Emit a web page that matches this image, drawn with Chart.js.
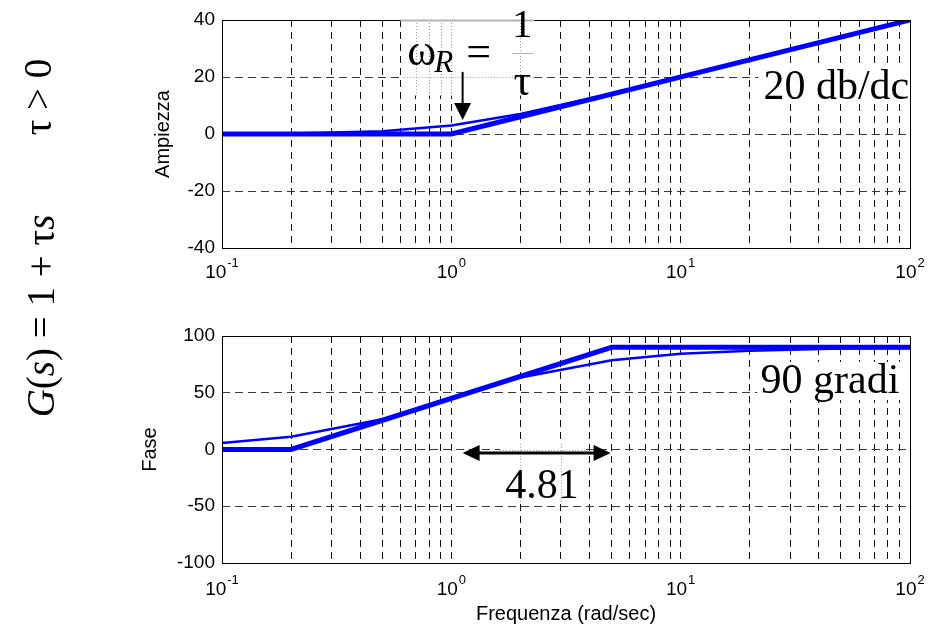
<!DOCTYPE html>
<html>
<head>
<meta charset="utf-8">
<script src="https://cdn.jsdelivr.net/npm/chart.js@4.4.0/dist/chart.umd.min.js"></script>
<style>
  html, body { margin: 0; padding: 0; background: #fff; }
  #wrap { position: relative; width: 946px; height: 631px; overflow: hidden; }
  canvas { position: absolute; left: 0; }
  #magCanvas { top: 0; }
  #phaseCanvas { top: 300px; }
  .eq {
    position: absolute;
    font-family: 'Liberation Serif', 'DejaVu Serif', serif;
    font-size: 39px;
    line-height: 1;
    white-space: nowrap;
    color: #000;
    transform: translate(-50%, -50%) rotate(-90deg);
  }
  .eq i { font-style: italic; }
</style>
</head>
<body>
<div id="wrap">
  <canvas id="magCanvas" width="946" height="300"></canvas>
  <canvas id="phaseCanvas" width="946" height="331"></canvas>
  <div class="eq" style="left:40px; top:316px;"><i>G</i>(<i>s</i>) = 1 + τ<i>s</i></div>
  <div class="eq" style="left:37px; top:97px;">τ &gt; 0</div>
</div>

<script>
// frequencies where the exact curves were sampled (rad/sec)
const freq = [0.1, 0.2, 0.5, 1, 2, 5, 10, 20, 50, 100];
// exact magnitude (dB) and phase (deg)
const magExact = [0.04, 0.17, 0.97, 3.0, 7.0, 14.2, 20.0, 26.0, 34.0, 40.0];
const phaseExact = [5.7, 11.3, 26.6, 45, 63.4, 78.7, 84.3, 87.1, 88.9, 89.4];
// asymptotic approximations
const magAsymFreq = [0.1, 1, 100];
const magAsym = [0, 0, 40];
const phaseAsymFreq = [0.1, 0.2, 5, 100];
const phaseAsym = [0, 0, 90, 90];
// ticks
const decadeTicks = [0.1, 1, 10, 100];
const decadeExponents = ['-1', '0', '1', '2'];
const magTicks = [-40, -20, 0, 20, 40];
const phaseTicks = [-100, -50, 0, 50, 100];

// grid lines at 1..9 x each decade
const gridFreqs = [];
for (let d = -1; d < 2; d++) {
  for (let m = 1; m < 10; m++) gridFreqs.push(m * Math.pow(10, d));
}
gridFreqs.push(100);

const SANS = "'Liberation Sans', Arial, sans-serif";
const SERIF = "'Liberation Serif', 'Times New Roman', serif";
const BLUE = '#0000ff';

function toPoints(xs, ys) {
  return xs.map((x, i) => ({ x: x, y: ys[i] }));
}

// white patch over the grid
function whiteBox(chart, xr, yr) {
  const { ctx, scales: { x, y } } = chart;
  const x0 = x.getPixelForValue(xr[0]), x1 = x.getPixelForValue(xr[1]);
  const y0 = y.getPixelForValue(yr[1]), y1 = y.getPixelForValue(yr[0]);
  ctx.save();
  ctx.fillStyle = '#fff';
  ctx.fillRect(x0, y0, x1 - x0, y1 - y0);
  ctx.restore();
}

// pasted formula region: grid shows as light dotted lines
function pasteBox(chart, xr, yr, vLines, hLines) {
  const { ctx, scales: { x, y } } = chart;
  const x0 = x.getPixelForValue(xr[0]), x1 = x.getPixelForValue(xr[1]);
  const y0 = y.getPixelForValue(yr[1]), y1 = y.getPixelForValue(yr[0]);
  whiteBox(chart, xr, yr);
  ctx.save();
  ctx.strokeStyle = '#a0a0a0';
  ctx.lineWidth = 1;
  ctx.setLineDash([1, 2]);
  vLines.forEach(v => {
    const px = Math.round(x.getPixelForValue(v)) + 0.5;
    ctx.beginPath(); ctx.moveTo(px, y0); ctx.lineTo(px, y1); ctx.stroke();
  });
  hLines.forEach(v => {
    const py = Math.round(y.getPixelForValue(v)) + 0.5;
    ctx.beginPath(); ctx.moveTo(x0, py); ctx.lineTo(x1, py); ctx.stroke();
  });
  ctx.restore();
}

function frame(chart) {
  const { ctx, chartArea: a } = chart;
  ctx.save();
  ctx.strokeStyle = '#000';
  ctx.lineWidth = 1;
  ctx.strokeRect(Math.round(a.left) + 0.5, Math.round(a.top) + 0.5,
    Math.round(a.right - a.left), Math.round(a.bottom - a.top));
  ctx.restore();
}

function decadeLabels(chart, offset) {
  const { ctx, chartArea, scales: { x } } = chart;
  ctx.save();
  ctx.fillStyle = '#000';
  ctx.textAlign = 'left';
  ctx.textBaseline = 'alphabetic';
  decadeTicks.forEach((v, i) => {
    ctx.font = '19px ' + SANS;
    const wBase = ctx.measureText('10').width;
    ctx.font = '13px ' + SANS;
    const wExp = ctx.measureText(decadeExponents[i]).width;
    const left = x.getPixelForValue(v) - (wBase + wExp + 1) / 2;
    const base = chartArea.bottom + offset;
    ctx.font = '19px ' + SANS;
    ctx.fillText('10', left, base);
    ctx.font = '13px ' + SANS;
    ctx.fillText(decadeExponents[i], left + wBase + 1, base - 11);
  });
  ctx.restore();
}

function yTitle(chart, text, gap) {
  const { ctx, chartArea: a } = chart;
  ctx.save();
  ctx.translate(a.left - gap, (a.top + a.bottom) / 2);
  ctx.rotate(-Math.PI / 2);
  ctx.font = '20px ' + SANS;
  ctx.fillStyle = '#000';
  ctx.textAlign = 'center';
  ctx.textBaseline = 'middle';
  ctx.fillText(text, 0, 0);
  ctx.restore();
}

function arrowHead(ctx, tx, ty, dx, dy, len, half) {
  ctx.beginPath();
  ctx.moveTo(tx, ty);
  ctx.lineTo(tx - dx * len - dy * half, ty - dy * len + dx * half);
  ctx.lineTo(tx - dx * len + dy * half, ty - dy * len - dx * half);
  ctx.closePath();
  ctx.fill();
}

function serifText(chart, text, xv, yv, size, italic) {
  const { ctx, scales: { x, y } } = chart;
  ctx.save();
  ctx.font = (italic ? 'italic ' : '') + size + 'px ' + SERIF;
  ctx.fillStyle = '#000';
  ctx.textAlign = 'left';
  ctx.textBaseline = 'alphabetic';
  ctx.fillText(text, x.getPixelForValue(xv), y.getPixelForValue(yv));
  ctx.restore();
}

const magAnnot = {
  id: 'magAnnot',
  beforeDatasetsDraw(chart) {
    whiteBox(chart, [21.8, 100], [11.2, 23.5]);
    pasteBox(chart, [0.62, 2.3], [13.5, 40], [0.7, 0.8, 0.9, 1, 2], [20]);
  },
  afterDraw(chart) {
    const { ctx, chartArea: a, scales: { x, y } } = chart;
    frame(chart);
    // grey top edge of the pasted formula
    ctx.save();
    ctx.strokeStyle = '#b4b4b4';
    ctx.lineWidth = 2;
    ctx.beginPath();
    ctx.moveTo(x.getPixelForValue(0.6), a.top + 0.5);
    ctx.lineTo(x.getPixelForValue(2.3), a.top + 0.5);
    ctx.stroke();
    ctx.restore();

    decadeLabels(chart, 30);
    yTitle(chart, 'Ampiezza', 59);

    // omega_R = 1/tau
    const px = x.getPixelForValue(0.643), py = y.getPixelForValue(24.2);
    ctx.save();
    ctx.fillStyle = '#000';
    ctx.textBaseline = 'alphabetic';
    ctx.textAlign = 'left';
    ctx.font = '44px ' + SERIF;
    ctx.fillText('ω', px, py);
    ctx.font = 'italic 31px ' + SERIF;
    ctx.fillText('R', px + 27, py + 7);
    ctx.font = '44px ' + SERIF;
    ctx.fillText('=', px + 59, py + 1);
    ctx.textAlign = 'center';
    ctx.font = '41px ' + SERIF;
    ctx.fillText('1', px + 115, py - 28);
    ctx.font = '44px ' + SERIF;
    ctx.fillText('τ', px + 115, py + 30);
    ctx.strokeStyle = '#b0b0b0';
    ctx.lineWidth = 1;
    ctx.beginPath();
    ctx.moveTo(px + 105, py - 11.5);
    ctx.lineTo(px + 126, py - 11.5);
    ctx.stroke();
    ctx.restore();

    // arrow down to the break frequency
    const ax = x.getPixelForValue(1.12);
    const ay0 = y.getPixelForValue(21.8), ay1 = y.getPixelForValue(4.9);
    ctx.save();
    ctx.strokeStyle = '#000';
    ctx.fillStyle = '#000';
    ctx.lineWidth = 2;
    ctx.beginPath();
    ctx.moveTo(ax, ay0);
    ctx.lineTo(ax, ay1 - 14);
    ctx.stroke();
    arrowHead(ctx, ax, ay1, 0, 1, 17, 8.5);
    ctx.restore();

    // slope label, clipped at the right edge
    ctx.save();
    ctx.beginPath();
    ctx.rect(a.left, a.top, a.right - a.left, a.bottom - a.top);
    ctx.clip();
    serifText(chart, '20 db/dc', 22.95, 12.3, 42, false);
    ctx.restore();
  }
};

const phaseAnnot = {
  id: 'phaseAnnot',
  beforeDatasetsDraw(chart) {
    whiteBox(chart, [21.6, 96.5], [43.6, 77.1]);
    pasteBox(chart, [1.63, 3.84], [-48, 5], [2, 3], [0]);
  },
  afterDraw(chart) {
    const { ctx, chartArea: a, scales: { x, y } } = chart;
    frame(chart);
    decadeLabels(chart, 32);
    yTitle(chart, 'Fase', 72);

    // x title
    ctx.save();
    ctx.font = '20px ' + SANS;
    ctx.fillStyle = '#000';
    ctx.textAlign = 'center';
    ctx.textBaseline = 'alphabetic';
    ctx.fillText('Frequenza (rad/sec)', (a.left + a.right) / 2, a.bottom + 57);
    ctx.restore();

    // double arrow over the transition band
    const x0 = x.getPixelForValue(1.12), x1 = x.getPixelForValue(4.95);
    const ay = y.getPixelForValue(-3.1);
    ctx.save();
    ctx.strokeStyle = '#000';
    ctx.fillStyle = '#000';
    ctx.lineWidth = 3;
    ctx.beginPath();
    ctx.moveTo(x0 + 14, ay);
    ctx.lineTo(x1 - 14, ay);
    ctx.stroke();
    arrowHead(ctx, x0, ay, -1, 0, 17, 8);
    arrowHead(ctx, x1, ay, 1, 0, 17, 8);
    ctx.restore();

    serifText(chart, '4.81', 1.72, -42.7, 42, false);
    serifText(chart, '90 gradi', 22.3, 49.8, 42, false);
  }
};

function bodeChart(id, cfg) {
  return new Chart(document.getElementById(id), {
    type: 'line',
    data: {
      datasets: [
        { data: toPoints(cfg.asymX, cfg.asymY), borderColor: BLUE, borderWidth: 5, pointRadius: 0, tension: 0 },
        { data: toPoints(freq, cfg.exact), borderColor: BLUE, borderWidth: 2.5, pointRadius: 0, tension: 0 }
      ]
    },
    options: {
      responsive: false,
      animation: false,
      devicePixelRatio: 1,
      layout: { padding: { top: cfg.top, right: 36, left: 0, bottom: 0 } },
      plugins: { legend: { display: false }, tooltip: { enabled: false } },
      scales: {
        x: {
          type: 'logarithmic',
          min: 0.1,
          max: 100,
          afterBuildTicks: s => { s.ticks = gridFreqs.map(v => ({ value: v })); },
          afterFit: s => { s.height = cfg.xHeight; },
          ticks: { display: false, autoSkip: false },
          grid: { color: '#111', lineWidth: 1, drawTicks: false },
          border: { display: false, dash: [7, 5] }
        },
        y: {
          min: cfg.yTicks[0],
          max: cfg.yTicks[cfg.yTicks.length - 1],
          afterBuildTicks: s => { s.ticks = cfg.yTicks.map(v => ({ value: v })); },
          afterFit: s => { s.width = 222; },
          ticks: { color: '#000', padding: 7, font: { family: SANS, size: 19 } },
          grid: { color: '#3a3a3a', lineWidth: 1, drawTicks: false },
          border: { display: false, dash: [8, 5] }
        }
      }
    },
    plugins: [cfg.plugin]
  });
}

bodeChart('magCanvas', {
  asymX: magAsymFreq, asymY: magAsym, exact: magExact,
  yTicks: magTicks, top: 20, xHeight: 52, plugin: magAnnot
});

bodeChart('phaseCanvas', {
  asymX: phaseAsymFreq, asymY: phaseAsym, exact: phaseExact,
  yTicks: phaseTicks, top: 36, xHeight: 68, plugin: phaseAnnot
});
</script>
</body>
</html>
